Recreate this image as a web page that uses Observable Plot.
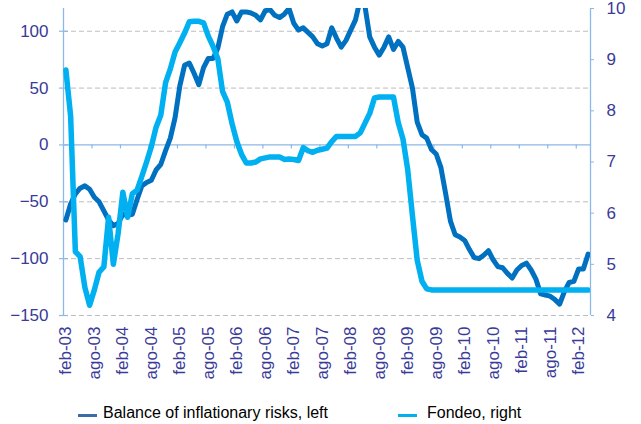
<!DOCTYPE html>
<html>
<head>
<meta charset="utf-8">
<script src="https://cdn.jsdelivr.net/npm/d3@7"></script>
<script src="https://cdn.jsdelivr.net/npm/@observablehq/plot@0.6"></script>
<style>
  body { margin: 0; background: #fff; font-family: "Liberation Sans", Arial, sans-serif; }
  #wrap { position: relative; width: 641px; height: 424px; overflow: hidden; }
  #chart svg { display: block; }
  .mk { position: absolute; height: 3px; width: 19px; top: 414px; }
  .lt { position: absolute; top: 405px; font-size: 16px; line-height: 16px; color: #000; white-space: nowrap; }
</style>
</head>
<body>
<div id="wrap">
  <div id="chart"></div>
  <div class="mk" style="left:78px;background:#3d6ba7"></div>
  <div class="lt" style="left:103px">Balance of inflationary risks, left</div>
  <div class="mk" style="left:398px;background:#00b0f0"></div>
  <div class="lt" style="left:427px">Fondeo, right</div>
</div>
<script>
// Monthly categories, first = feb-03; a label every 6 categories
const tickLabels = ["feb-03","ago-03","feb-04","ago-04","feb-05","ago-05","feb-06","ago-06",
  "feb-07","ago-07","feb-08","ago-08","feb-09","ago-09","feb-10","ago-10","feb-11","ago-11","feb-12"];

// Balance of inflationary risks (left axis)
const balance = [
  -66,-52,-43,-38,-36,-39,-46,-50,-58,-66,
  -71,-69,-61,-62,-61,-48,-36,-33,-31,-22,
  -17,-5,6,24,52,70,72,63,53,68,
  76,76,85,104,115,117,109,117,117,116,
  114,110,118,119,114,112,115,120,107,101,
  103,99,95,89,87,89,103,94,86,92,
  101,110,128,122,95,86,79,86,95,84,
  91,86,68,50,20,9,6,-4,-8,-20,
  -43,-67,-79,-81,-84,-92,-99,-100,-97,-93,
  -101,-107,-108,-113,-117,-110,-106,-104,-110,-118,
  -131,-132,-133,-136,-140,-129,-121,-120,-109,-109,
  -96
];

// Fondeo rate, % (right axis)
const fondeo = [
  8.8,7.9,5.25,5.15,4.55,4.2,4.5,4.85,4.95,5.92,
  5.0,5.6,6.41,5.92,6.38,6.45,6.72,7.0,7.3,7.68,
  7.92,8.55,8.82,9.15,9.33,9.52,9.74,9.75,9.75,9.72,
  9.46,9.26,9.02,8.38,8.17,7.75,7.4,7.15,6.98,6.98,
  7.0,7.06,7.08,7.1,7.1,7.1,7.05,7.06,7.05,7.03,
  7.28,7.22,7.19,7.23,7.25,7.27,7.4,7.5,7.5,7.5,
  7.5,7.5,7.57,7.76,7.95,8.25,8.27,8.27,8.27,8.27,
  7.77,7.45,6.85,5.95,5.08,4.67,4.52,4.5,4.5,4.5,
  4.5,4.5,4.5,4.5,4.5,4.5,4.5,4.5,4.5,4.5,
  4.5,4.5,4.5,4.5,4.5,4.5,4.5,4.5,4.5,4.5,
  4.5,4.5,4.5,4.5,4.5,4.5,4.5,4.5,4.5,4.5,
  4.5
];

const leftTicks = [-150, -100, -50, 0, 50, 100];
const gridValues = [-150, -100, -50, 50, 100];
const rightTicks = [4, 5, 6, 7, 8, 9, 10];
const leftDomain = [-150, 120];
const rightDomain = [4, 10];

// map right-axis values onto the left scale
const toLeft = r => leftDomain[0] + (r - rightDomain[0]) * (leftDomain[1] - leftDomain[0]) / (rightDomain[1] - rightDomain[0]);
const fromLeft = v => rightDomain[0] + (v - leftDomain[0]) * (rightDomain[1] - rightDomain[0]) / (leftDomain[1] - leftDomain[0]);

const n = balance.length;
const rows = balance.map((v, i) => ({i: i + 0.5, balance: v, fondeo: toLeft(fondeo[i])}));
const labelPos = tickLabels.map((_, k) => k * 6 + 0.5);
const tickPos = d3.range(6, n, 6);

const navy = "#3a3a98";
const axisBlue = "#8cb8e6";
const dark = "#0070c0";
const light = "#00b0f0";

const chart = Plot.plot({
  width: 641,
  height: 392,
  marginLeft: 63,
  marginRight: 51,
  marginTop: 8,
  marginBottom: 77,
  style: {fontFamily: "'Liberation Sans', Arial, sans-serif", fontSize: "17px", background: "white"},
  x: {domain: [0, n], axis: null},
  y: {domain: leftDomain, axis: null},
  marks: [
    Plot.ruleY(gridValues, {stroke: "#bdbdbd", strokeWidth: 1, strokeDasharray: "5,3"}),
    Plot.ruleY([0], {stroke: axisBlue, strokeWidth: 1.3}),
    Plot.ruleX(tickPos, {y1: 0, y2: 0, insetBottom: -4, stroke: axisBlue, strokeWidth: 1.2}),
    Plot.ruleX([0], {stroke: axisBlue, strokeWidth: 1.3}),
    Plot.ruleX([n], {stroke: axisBlue, strokeWidth: 1.3}),
    Plot.ruleY(leftTicks, {x1: 0, x2: 0, insetLeft: -4, insetRight: -5, stroke: axisBlue, strokeWidth: 1.2}),
    Plot.axisY({anchor: "left", label: null, ticks: leftTicks, tickSize: 0, tickPadding: 15, fill: navy, fontSize: 17}),
    Plot.axisY({anchor: "right", label: null, ticks: rightTicks.map(toLeft), tickFormat: v => String(Math.round(fromLeft(v))),
      tickSize: 3, tickPadding: 13, stroke: axisBlue, fill: navy, fontSize: 17}),
    Plot.axisX({anchor: "bottom", label: null, ticks: labelPos, tickFormat: v => tickLabels[Math.round((v - 0.5) / 6)],
      tickRotate: -90, tickSize: 0, tickPadding: 11, fill: navy, fontSize: 17}),
    Plot.line(rows, {x: "i", y: "balance", stroke: dark, strokeWidth: 5, strokeLinejoin: "round", strokeLinecap: "round", clip: true}),
    Plot.line(rows, {x: "i", y: "fondeo", stroke: light, strokeWidth: 5.5, strokeLinejoin: "round", strokeLinecap: "round", clip: true})
  ]
});
document.getElementById("chart").appendChild(chart);
</script>
</body>
</html>
